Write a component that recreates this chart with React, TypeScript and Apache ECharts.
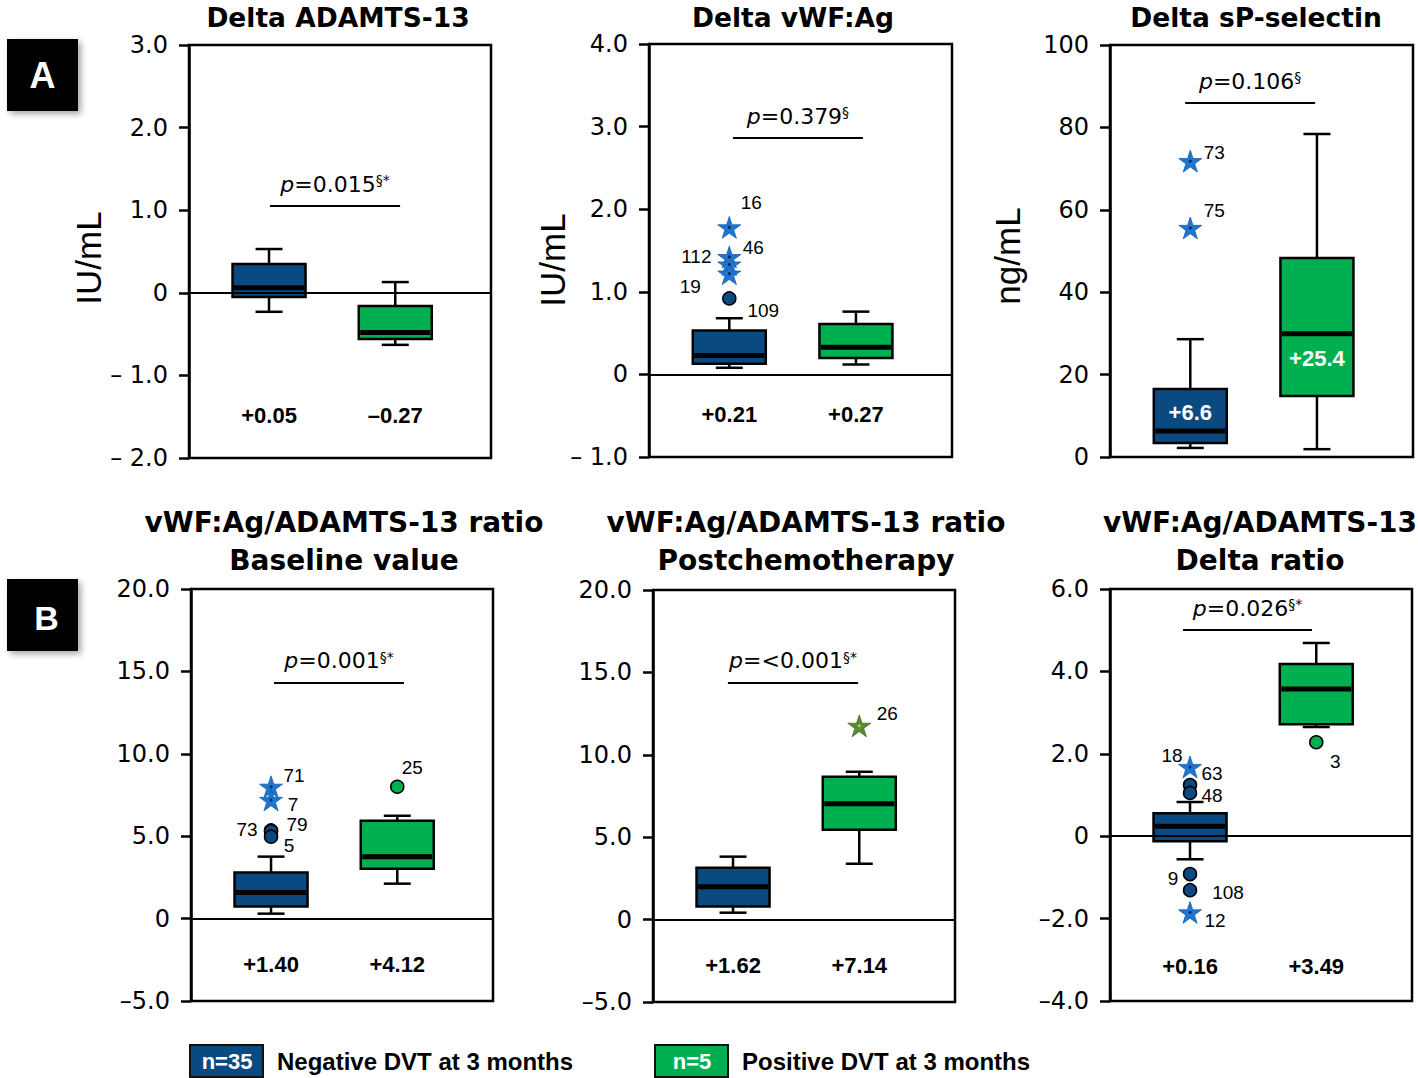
import React, { useEffect, useRef } from 'react';
import * as echarts from 'echarts';

// ---------------- DATA ----------------
// Box arrays: [lower whisker, Q1, median, Q3, upper whisker]
const adamtsNeg = [-0.23, -0.05, 0.06, 0.35, 0.53];
const adamtsPos = [-0.63, -0.56, -0.48, -0.16, 0.13];
const adamtsMeans = [0.05, -0.27];

const vwfNeg = [0.08, 0.13, 0.23, 0.53, 0.68];
const vwfPos = [0.12, 0.2, 0.33, 0.61, 0.76];
const vwfMeans = [0.21, 0.27];
const vwfOutliers = [
  { group: 0, value: 1.78, id: '16', shape: 'star' },
  { group: 0, value: 1.42, id: '46', shape: 'star' },
  { group: 0, value: 1.33, id: '112', shape: 'star' },
  { group: 0, value: 1.22, id: '19', shape: 'star' },
  { group: 0, value: 0.92, id: '109', shape: 'circle' },
];

const selNeg = [2.2, 3.4, 6.3, 16.5, 28.6];
const selPos = [1.9, 14.8, 29.9, 48.3, 78.4];
const selMeans = [6.6, 25.4];
const selOutliers = [
  { group: 0, value: 71.8, id: '73', shape: 'star' },
  { group: 0, value: 55.6, id: '75', shape: 'star' },
];

const baseNeg = [0.3, 0.73, 1.58, 2.79, 3.76];
const basePos = [2.12, 3.03, 3.76, 5.94, 6.24];
const baseMeans = [1.4, 4.12];
const baseOutliers = [
  { group: 0, value: 8.0, id: '71', shape: 'star' },
  { group: 0, value: 7.2, id: '7', shape: 'star' },
  { group: 0, value: 5.35, id: '73', shape: 'circle' },
  { group: 0, value: 5.3, id: '79', shape: 'circle' },
  { group: 0, value: 4.97, id: '5', shape: 'circle' },
  { group: 1, value: 8.0, id: '25', shape: 'circle' },
];

const postNeg = [0.42, 0.79, 2.0, 3.15, 3.82];
const postPos = [3.39, 5.45, 7.03, 8.67, 8.97];
const postMeans = [1.62, 7.14];
const postOutliers = [{ group: 1, value: 11.76, id: '26', shape: 'star' }];

const deltaNeg = [-0.56, -0.12, 0.24, 0.56, 0.83];
const deltaPos = [2.65, 2.72, 3.57, 4.18, 4.69];
const deltaMeans = [0.16, 3.49];
const deltaOutliers = [
  { group: 0, value: 1.68, id: '18', shape: 'star' },
  { group: 0, value: 1.24, id: '63', shape: 'circle' },
  { group: 0, value: 1.05, id: '48', shape: 'circle' },
  { group: 0, value: -0.92, id: '9', shape: 'circle' },
  { group: 0, value: -1.31, id: '108', shape: 'circle' },
  { group: 0, value: -1.85, id: '12', shape: 'star' },
  { group: 1, value: 2.28, id: '3', shape: 'circle' },
];

const pMain = ['0.015', '0.379', '0.106', '0.001', '<0.001', '0.026'];
const pSup = ['§*', '§', '§', '§*', '§*', '§*'];

const groupN = [35, 5];
const groupNames = ['Negative DVT at 3 months', 'Positive DVT at 3 months'];

// ---------------- LAYOUT / STYLE ----------------
const BLUE = '#0b4a80';
const GREEN = '#00b050';
const STAR_BLUE = '#1f76d0';
const STAR_GREEN = '#5a8a32';
const GROUP_X = [0.265, 0.683];
const BOX_W = 73;
const CAP_W = 27;
const AX_FONT = 'DejaVu Sans';
const AR_FONT = 'Liberation Sans';
const STAR =
  'path://M50,0 L61.23,34.55 L97.55,34.55 L68.17,55.9 L79.39,90.45 L50,69.1 L20.61,90.45 L31.83,55.9 L2.45,34.55 L38.77,34.55 Z';

const vwfOffsets = [[22, -25], [24, -10], [-33, -8], [-39, 13], [34, 12]];
const selOffsets = [[24, -9], [24, -17]];
const baseOffsets = [[23, -11], [22, 5], [-24, -1], [26, -7], [18, 9], [15, -19]];
const postOffsets = [[28, -12]];
const deltaOffsets = [[-18, -11], [22, -12], [22, 3], [-17, 4], [38, 2], [25, 8], [19, 19]];

const PANELS = [
  {
    grid: { left: 189, top: 45, width: 302, height: 413 },
    min: -2, max: 3, interval: 1, fmt: 'space',
    neg: adamtsNeg, pos: adamtsPos, means: adamtsMeans, meanDec: 2,
    meanY: [-1.48, -1.48], meanColor: '#000',
    outliers: [], offsets: [],
    pLine: [0.268, 0.699, 1.05],
  },
  {
    grid: { left: 649, top: 44, width: 303, height: 413 },
    min: -1, max: 4, interval: 1, fmt: 'space',
    neg: vwfNeg, pos: vwfPos, means: vwfMeans, meanDec: 2,
    meanY: [-0.485, -0.485], meanColor: '#000',
    outliers: vwfOutliers, offsets: vwfOffsets,
    pLine: [0.277, 0.706, 2.86],
  },
  {
    grid: { left: 1110, top: 45, width: 303, height: 412 },
    min: 0, max: 100, interval: 20, fmt: 'int',
    neg: selNeg, pos: selPos, means: selMeans, meanDec: 1,
    meanY: [10.9, 23.8], meanColor: '#fff',
    outliers: selOutliers, offsets: selOffsets,
    pLine: [0.248, 0.677, 85.9],
  },
  {
    grid: { left: 191, top: 589, width: 302, height: 412 },
    min: -5, max: 20, interval: 5, fmt: 'dash',
    neg: baseNeg, pos: basePos, means: baseMeans, meanDec: 2,
    meanY: [-2.79, -2.79], meanColor: '#000',
    outliers: baseOutliers, offsets: baseOffsets,
    pLine: [0.275, 0.705, 14.3],
  },
  {
    grid: { left: 653, top: 590, width: 302, height: 412 },
    min: -5, max: 20, interval: 5, fmt: 'dash',
    neg: postNeg, pos: postPos, means: postMeans, meanDec: 2,
    meanY: [-2.79, -2.79], meanColor: '#000',
    outliers: postOutliers, offsets: postOffsets,
    pLine: [0.248, 0.679, 14.36],
  },
  {
    grid: { left: 1110, top: 589, width: 302, height: 412 },
    min: -4, max: 6, interval: 2, fmt: 'dash',
    neg: deltaNeg, pos: deltaPos, means: deltaMeans, meanDec: 2,
    meanY: [-3.16, -3.16], meanColor: '#000',
    outliers: deltaOutliers, offsets: deltaOffsets,
    pLine: [0.242, 0.669, 5.0],
  },
];

const TITLES = [
  { lines: ['Delta ADAMTS-13'], x: 338, y: [17], size: 26.5 },
  { lines: ['Delta vWF:Ag'], x: 793, y: [17], size: 26.5 },
  { lines: ['Delta sP-selectin'], x: 1256, y: [17], size: 26.5 },
  { lines: ['vWF:Ag/ADAMTS-13 ratio', 'Baseline value'], x: 344, y: [522, 560], size: 28 },
  { lines: ['vWF:Ag/ADAMTS-13 ratio', 'Postchemotherapy'], x: 806, y: [522, 560], size: 28 },
  { lines: ['vWF:Ag/ADAMTS-13', 'Delta ratio'], x: 1260, y: [522, 560], size: 28 },
];

const Y_NAMES = [
  { text: 'IU/mL', x: 88, y: 258 },
  { text: 'IU/mL', x: 552, y: 260 },
  { text: 'ng/mL', x: 1007, y: 256 },
];

function fmtTick(v: number, style: string) {
  if (v === 0) return '0';
  if (style === 'int') return String(v);
  const s = Math.abs(v).toFixed(1);
  if (v < 0) return (style === 'space' ? '\u2013 ' : '\u2013') + s;
  return s;
}

function fmtMean(v: number, d: number) {
  return (v >= 0 ? '+' : '\u2013') + Math.abs(v).toFixed(d);
}

function buildOption() {
  const grid: any[] = [];
  const xAxis: any[] = [];
  const yAxis: any[] = [];
  const series: any[] = [];
  const graphic: any[] = [];

  PANELS.forEach((p, i) => {
    grid.push({ ...p.grid, show: true, borderColor: '#000', borderWidth: 2.5, backgroundColor: 'transparent' });
    xAxis.push({ type: 'value', gridIndex: i, min: 0, max: 1, show: false });
    yAxis.push({
      type: 'value', gridIndex: i, min: p.min, max: p.max, interval: p.interval,
      axisLine: { show: true, lineStyle: { color: '#000', width: 2.5 } },
      axisTick: { show: true, length: 10, lineStyle: { color: '#000', width: 2.5 } },
      splitLine: { show: false },
      axisLabel: {
        margin: 21, color: '#000', fontFamily: AX_FONT, fontSize: 24,
        formatter: (v: number) => fmtTick(v, p.fmt),
      },
    });

    const boxData = [
      [0, ...p.neg, p.means[0]],
      [1, ...p.pos, p.means[1]],
    ];
    series.push({
      type: 'custom',
      coordinateSystem: 'cartesian2d',
      xAxisIndex: i, yAxisIndex: i,
      clip: false,
      encode: { x: 0, y: [1, 2, 3, 4, 5] },
      data: boxData,
      z: 2,
      renderItem: (params: any, api: any) => {
        const g = api.value(0);
        const x = GROUP_X[g];
        const pt = (v: number) => api.coord([x, v]);
        const lo = pt(api.value(1));
        const q1 = pt(api.value(2));
        const md = pt(api.value(3));
        const q3 = pt(api.value(4));
        const hi = pt(api.value(5));
        const mPt = pt(p.meanY[g]);
        const cx = lo[0];
        const half = BOX_W / 2;
        const ch = CAP_W / 2;
        const ln = (x1: number, y1: number, x2: number, y2: number, w: number) => ({
          type: 'line', shape: { x1, y1, x2, y2 }, style: { stroke: '#000', lineWidth: w },
        });
        return {
          type: 'group',
          children: [
            ln(cx, hi[1], cx, q3[1], 2.5),
            ln(cx - ch, hi[1], cx + ch, hi[1], 2.5),
            ln(cx, q1[1], cx, lo[1], 2.5),
            ln(cx - ch, lo[1], cx + ch, lo[1], 2.5),
            {
              type: 'rect',
              shape: { x: cx - half, y: q3[1], width: BOX_W, height: q1[1] - q3[1] },
              style: { fill: g === 0 ? BLUE : GREEN, stroke: '#000', lineWidth: 2.5 },
            },
            ln(cx - half + 1.5, md[1], cx + half - 1.5, md[1], 5),
            {
              type: 'text', x: mPt[0], y: mPt[1],
              style: {
                text: fmtMean(api.value(6), p.meanDec), fill: p.meanColor,
                fontFamily: AR_FONT, fontSize: 22, fontWeight: 'bold',
                align: 'center', verticalAlign: 'middle',
              },
            },
          ],
        };
      },
      markLine: {
        silent: true,
        symbol: ['none', 'none'],
        animation: false,
        lineStyle: { color: '#000', width: 2.2, type: 'solid' },
        data: [
          { yAxis: 0, label: { show: false }, lineStyle: { color: '#000', width: 2.2, type: 'solid' } },
          [
            {
              coord: [p.pLine[0], p.pLine[2]],
              label: {
                show: true,
                position: 'insideMiddleTop',
                distance: 11,
                formatter: () => `{i|p}{n|=${pMain[i]}}{s|${pSup[i]}}`,
                rich: {
                  i: { fontStyle: 'italic', fontSize: 22, fontFamily: AX_FONT, color: '#000' },
                  n: { fontSize: 22, fontFamily: AX_FONT, color: '#000' },
                  s: { fontSize: 14, fontFamily: AX_FONT, color: '#000', verticalAlign: 'top' },
                },
              },
            },
            { coord: [p.pLine[1], p.pLine[2]] },
          ],
        ],
      },
    });

    if (p.outliers.length) {
      series.push({
        type: 'scatter',
        xAxisIndex: i, yAxisIndex: i,
        z: 5,
        itemStyle: { opacity: 1 },
        data: p.outliers.map((o: any, k: number) => {
          const isStar = o.shape === 'star';
          return {
            value: [GROUP_X[o.group], o.value],
            symbol: isStar ? STAR : 'circle',
            symbolSize: isStar ? 23 : 13,
            symbolKeepAspect: true,
            itemStyle: isStar
              ? { opacity: 1, color: o.group === 0 ? STAR_BLUE : STAR_GREEN, borderColor: o.group === 0 ? '#165fae' : '#456e25', borderWidth: 0.8 }
              : { opacity: 1, color: o.group === 0 ? BLUE : GREEN, borderColor: '#000', borderWidth: 1.5 },
            label: {
              show: true, formatter: o.id, position: 'inside', offset: p.offsets[k],
              color: '#000', fontFamily: AR_FONT, fontSize: 19,
              textBorderWidth: 0, opacity: 1,
            },
          };
        }),
      });
      const stars = p.outliers.filter((o: any) => o.shape === 'star');
      if (stars.length) {
        series.push({
          type: 'scatter',
          xAxisIndex: i, yAxisIndex: i,
          z: 6,
          symbol: 'circle',
          symbolSize: 3,
          itemStyle: { opacity: 1 },
          data: stars.map((o: any) => ({
            value: [GROUP_X[o.group], o.value],
            itemStyle: { opacity: 1, color: o.group === 0 ? '#0a2a5a' : '#a8d86a' },
          })),
        });
      }
    }
  });

  // Titles
  TITLES.forEach((t) => {
    t.lines.forEach((line, k) => {
      graphic.push({
        type: 'text', x: t.x, y: t.y[k],
        style: {
          text: line, fill: '#000', fontFamily: AX_FONT, fontWeight: 'bold', fontSize: t.size,
          align: 'center', verticalAlign: 'middle', textAlign: 'center', textVerticalAlign: 'middle',
        },
      });
    });
  });

  // Y axis names
  Y_NAMES.forEach((n) => {
    graphic.push({
      type: 'text', x: n.x, y: n.y, rotation: Math.PI / 2,
      style: {
        text: n.text, fill: '#000', fontFamily: AR_FONT, fontSize: 35,
        align: 'center', verticalAlign: 'middle', textAlign: 'center', textVerticalAlign: 'middle',
      },
    });
  });

  // Panel labels A / B
  const panelLabels = [
    { t: 'A', x: 7, y: 39, cx: 42.5, cy: 75, fs: 36 },
    { t: 'B', x: 7, y: 579, cx: 46.5, cy: 618, fs: 34 },
  ];
  panelLabels.forEach((l) => {
    graphic.push({
      type: 'rect', shape: { x: l.x, y: l.y, width: 71, height: 72 },
      style: { fill: '#000', shadowBlur: 6, shadowOffsetX: 3, shadowOffsetY: 3, shadowColor: 'rgba(0,0,0,0.35)' },
    });
    graphic.push({
      type: 'text', x: l.cx, y: l.cy,
      style: {
        text: l.t, fill: '#fff', fontFamily: AR_FONT, fontWeight: 'bold', fontSize: l.fs,
        align: 'center', verticalAlign: 'middle', textAlign: 'center', textVerticalAlign: 'middle',
      },
    });
  });

  // Legend
  const legendItems = [
    { color: BLUE, rx: 190, tx: 277 },
    { color: GREEN, rx: 655, tx: 742 },
  ];
  legendItems.forEach((l, k) => {
    graphic.push({
      type: 'rect', shape: { x: l.rx, y: 1045, width: 73, height: 32 },
      style: { fill: l.color, stroke: '#111', lineWidth: 2 },
    });
    graphic.push({
      type: 'text', x: l.rx + 37, y: 1061,
      style: {
        text: 'n=' + groupN[k], fill: '#fff', fontFamily: AR_FONT, fontWeight: 'bold', fontSize: 22,
        align: 'center', verticalAlign: 'middle', textAlign: 'center', textVerticalAlign: 'middle',
      },
    });
    graphic.push({
      type: 'text', x: l.tx, y: 1061,
      style: {
        text: groupNames[k], fill: '#000', fontFamily: AR_FONT, fontWeight: 'bold', fontSize: 24,
        align: 'left', verticalAlign: 'middle', textAlign: 'left', textVerticalAlign: 'middle',
      },
    });
  });

  return {
    animation: false,
    backgroundColor: '#fff',
    grid, xAxis, yAxis, series, graphic,
  };
}

export default function App() {
  const ref = useRef<HTMLDivElement | null>(null);
  useEffect(() => {
    if (!ref.current) return;
    const chart = echarts.init(ref.current, undefined, { renderer: 'svg' });
    chart.setOption(buildOption() as any);
    return () => chart.dispose();
  }, []);
  return (
    <div
      ref={ref}
      style={{ position: 'fixed', left: 0, top: 0, width: 1418, height: 1078, background: '#fff' }}
    />
  );
}
